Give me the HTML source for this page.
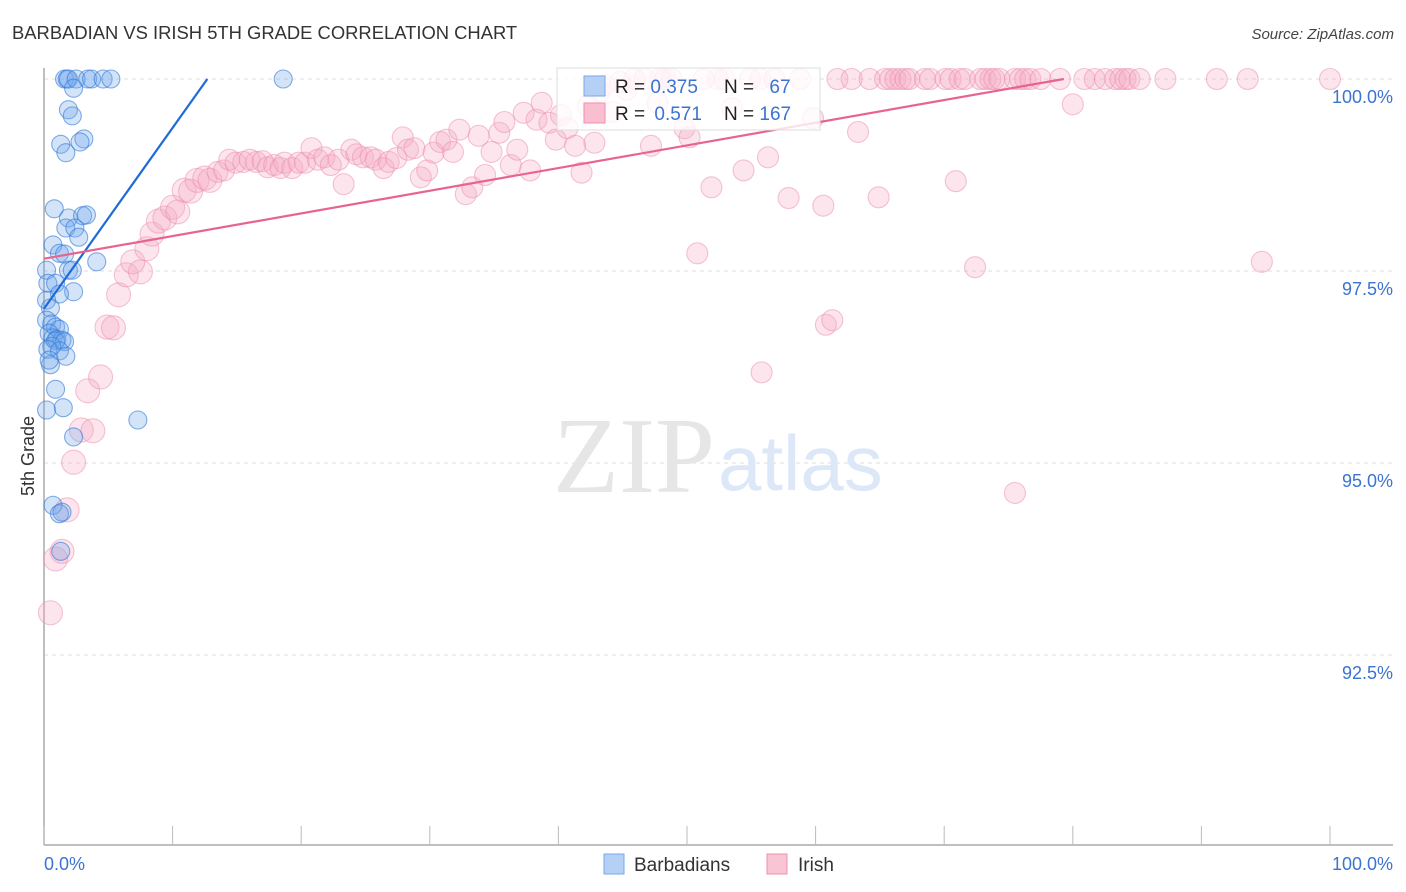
<!DOCTYPE html>
<html><head><meta charset="utf-8"><style>
body{margin:0;background:#fff;width:1406px;height:892px;overflow:hidden;font-family:"Liberation Sans",sans-serif}
svg{position:absolute;left:0;top:0}
</style></head><body>
<svg id="chart" width="1406" height="892" xmlns="http://www.w3.org/2000/svg">
<text x="12" y="39" font-size="18.4" fill="#333" font-family="Liberation Sans, sans-serif">BARBADIAN VS IRISH 5TH GRADE CORRELATION CHART</text>
<text x="1394" y="39" font-size="15" fill="#444" text-anchor="end" font-style="italic" font-family="Liberation Sans, sans-serif">Source: ZipAtlas.com</text>
<g id="grid"></g>
<g>
<text x="553" y="492" font-size="108" fill="#e6e6e6" font-family="Liberation Serif, serif">ZIP</text>
<text x="718" y="490" font-size="78" fill="#dce8f8" font-family="Liberation Sans, sans-serif">atlas</text>
</g>
<g id="axes"></g>
<g id="pink"></g>
<g id="blue"></g>
<g id="trends"></g>
<text transform="translate(34,456) rotate(-90)" font-size="18" fill="#333" text-anchor="middle" font-family="Liberation Sans, sans-serif">5th Grade</text>
<g>
<rect x="557" y="68" width="263" height="62" fill="#fff" fill-opacity="0.8" stroke="#ddd"/>
<rect x="584" y="76" width="21" height="20" fill="#b5d0f5" stroke="#7aa7e6"/>
<rect x="584" y="103" width="21" height="20" fill="#f9bfd0" stroke="#f08fab"/>
<text x="615" y="93" font-size="19" fill="#222">R = <tspan fill="#3b73d1">0.375</tspan></text>
<text x="724" y="93" font-size="19" fill="#222">N = <tspan fill="#3b73d1" dx="10">67</tspan></text>
<text x="615" y="120" font-size="19" fill="#222">R = <tspan fill="#3b73d1" dx="4">0.571</tspan></text>
<text x="724" y="120" font-size="19" fill="#222">N = <tspan fill="#3b73d1">167</tspan></text>
</g>
<g>
<rect x="604" y="854" width="20" height="20" fill="#b5d0f5" stroke="#7aa7e6"/>
<text x="634" y="871" font-size="19" fill="#333">Barbadians</text>
<rect x="767" y="854" width="20" height="20" fill="#f9c5d4" stroke="#f08fab"/>
<text x="798" y="871" font-size="19" fill="#333">Irish</text>
</g>
</svg>
<script>
const yTicks=[100,97.5,95,92.5];
const yTickLabels=["100.0%","97.5%","95.0%","92.5%"];
const xTicks=[0,10,20,30,40,50,60,70,80,90,100];
const blueX=[1.6,1.8,1.9,2.5,3.4,3.7,4.6,5.2,18.6,2.3,1.9,2.2,1.3,1.7,3.1,2.8,0.8,1.9,3.0,3.3,1.7,2.4,2.7,0.7,1.2,1.6,4.1,1.9,2.2,0.2,0.3,0.9,2.3,1.2,0.2,0.5,0.2,0.6,0.9,1.2,0.4,0.7,1.0,1.4,0.9,1.6,0.6,0.3,1.2,1.7,0.5,0.4,0.9,0.2,1.5,2.3,7.3,0.7,1.2,1.4,1.3];
const blueY=[100,100,100,100,100,100,100,100,100,99.88,99.6,99.52,99.15,99.04,99.22,99.18,98.31,98.19,98.22,98.23,98.06,98.06,97.94,97.84,97.73,97.72,97.62,97.51,97.51,97.51,97.34,97.34,97.23,97.2,97.12,97.02,96.86,96.81,96.77,96.74,96.69,96.63,96.61,96.6,96.59,96.58,96.52,96.48,96.46,96.39,96.28,96.34,95.96,95.69,95.72,95.34,95.56,94.45,94.34,94.36,93.85];
const pinkX=[0.5,0.9,1.4,1.8,2.3,2.9,3.8,3.4,4.4,4.9,5.4,5.8,6.4,7.5,6.9,8.0,8.4,8.9,9.4,10.0,10.4,10.9,11.4,11.9,12.5,12.9,13.5,14.0,14.4,14.9,15.5,16.0,16.5,17.0,17.4,17.9,18.4,18.7,19.3,19.8,20.3,20.8,21.3,21.8,22.3,22.9,23.3,23.9,24.3,24.8,25.4,25.8,26.4,26.8,27.4,27.9,28.3,28.8,29.3,29.8,30.3,30.8,31.3,31.8,32.3,32.8,33.3,33.8,34.3,34.8,35.4,35.8,36.3,36.8,37.3,37.8,38.3,38.7,39.3,39.8,40.2,40.7,41.3,41.8,42.3,42.8,43.2,43.6,44.2,44.8,45.3,45.9,46.7,47.2,47.7,47.9,48.3,48.8,49.8,50.2,50.8,51.3,51.9,52.4,52.9,53.5,54.4,54.9,55.7,56.3,56.8,57.9,58.8,59.8,60.6,60.8,61.3,61.7,63.3,62.8,64.2,64.9,65.4,65.8,66.2,66.6,67.0,67.3,68.5,68.9,70.1,70.5,70.9,71.2,71.6,72.4,72.8,73.2,73.6,73.9,74.3,75.5,75.9,76.3,76.7,75.5,77.5,79.0,80.0,80.9,81.7,82.5,83.3,83.7,84.1,84.4,85.2,87.2,91.2,93.6,94.7,100,55.8];
const pinkY=[93.05,93.75,93.85,94.39,95.01,95.43,95.42,95.94,96.12,96.77,96.76,97.19,97.45,97.49,97.62,97.79,97.98,98.15,98.19,98.33,98.27,98.55,98.54,98.68,98.71,98.68,98.79,98.81,98.95,98.91,98.92,98.95,98.92,98.93,98.85,98.88,98.84,98.91,98.84,98.91,98.91,99.10,98.95,98.98,98.88,98.95,98.63,99.08,99.02,98.98,98.98,98.95,98.84,98.92,98.97,99.24,99.08,99.10,98.72,98.81,99.04,99.18,99.21,99.05,99.34,98.50,98.59,99.26,98.75,99.05,99.30,99.44,98.88,99.08,99.56,98.81,99.47,99.69,99.43,99.21,99.53,99.36,99.13,98.78,99.65,99.17,99.84,99.92,99.57,99.96,99.86,100,100,99.13,99.69,100,100,100,99.36,99.24,97.73,100,98.59,100,100,99.62,98.81,100,100,98.98,100,98.45,100,99.49,98.35,96.80,96.86,100,99.31,100,100,98.46,100,100,100,100,100,100,100,100,100,100,98.67,100,100,97.55,100,100,100,100,100,100,100,100,100,94.61,100,100,99.67,100,100,100,100,100,100,100,100,100,100,100,97.62,100,96.18];
const blueTrend=[0,97.01,12.7,100];
const pinkTrend=[0,97.66,79.3,100];

const NS="http://www.w3.org/2000/svg";
const X0=44,X1=1330,YT=79,PX=76.8;
const xs=v=>X0+(X1-X0)*v/100;
const ys=v=>YT+(100-v)*PX;
function mk(tag,attrs,parent){const e=document.createElementNS(NS,tag);for(const k in attrs)e.setAttribute(k,attrs[k]);parent.appendChild(e);return e;}
const grid=document.getElementById('grid'),axes=document.getElementById('axes');
yTicks.forEach((t,i)=>{
  const l=mk('line',{x1:44,x2:1393,y1:ys(t),y2:ys(t),stroke:'#ddd','stroke-dasharray':'4,4'},grid);
  
  
  const tx=mk('text',{x:1393,y:ys(t)+24,'font-size':18,fill:'#3b73d1','text-anchor':'end'},axes);
  tx.textContent=yTickLabels[i];
  
  
});
const ya=mk('line',{x1:44,x2:44,y1:68,y2:845,stroke:'#aaa','stroke-width':1.5},axes);


const xa=mk('line',{x1:44,x2:1393,y1:845,y2:845,stroke:'#aaa','stroke-width':1.5},axes);


xTicks.forEach(t=>{
  const l=mk('line',{x1:xs(t),x2:xs(t),y1:826,y2:845,stroke:'#bbb'},axes);
  
  
});
const xl0=mk('text',{x:44,y:870,'font-size':18,fill:'#3b73d1'},axes);xl0.textContent='0.0%';


const xl1=mk('text',{x:1393,y:870,'font-size':18,fill:'#3b73d1','text-anchor':'end'},axes);xl1.textContent='100.0%';


const pg=document.getElementById('pink');
pinkX.forEach((v,i)=>{
  const c=mk('circle',{cx:xs(v),cy:ys(pinkY[i]),r:v<13?12:10.5,fill:'rgba(246,170,195,0.3)',stroke:'rgba(236,140,172,0.5)','stroke-width':1.1},pg);
  
  
});
const bg=document.getElementById('blue');
blueX.forEach((v,i)=>{
  const c=mk('circle',{cx:xs(v),cy:ys(blueY[i]),r:9,fill:'rgba(110,165,235,0.3)',stroke:'rgba(50,120,215,0.6)','stroke-width':1.1},bg);
  
  
});
const tg=document.getElementById('trends');
const bl=mk('line',{x1:xs(blueTrend[0]),y1:ys(blueTrend[1]),x2:xs(blueTrend[2]),y2:ys(blueTrend[3]),stroke:'#1f6bd6','stroke-width':2.2},tg);


const pl=mk('line',{x1:xs(pinkTrend[0]),y1:ys(pinkTrend[1]),x2:xs(pinkTrend[2]),y2:ys(pinkTrend[3]),stroke:'#e8648f','stroke-width':2.2},tg);


</script>
</body></html>
